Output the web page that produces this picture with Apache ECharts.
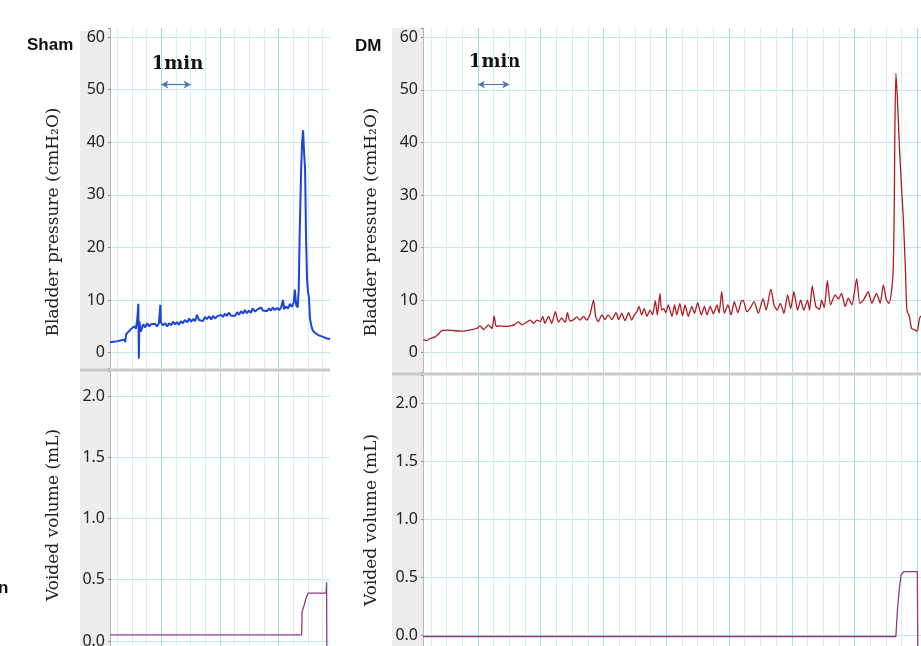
<!DOCTYPE html>
<html>
<head>
<meta charset="utf-8">
<title>Cystometry traces</title>
<script src="https://cdn.jsdelivr.net/npm/echarts@6.0.0/dist/echarts.min.js"></script>
<style>
  html, body { margin: 0; padding: 0; background: #fff; }
  #chart { width: 921px; height: 646px; }
</style>
</head>
<body>
<div id="chart"></div>
<script>
// time in seconds, pressure in cmH2O, voided volume in mL
const shamTime = [15,19,23,27,31,36,40,44,46,48,52,56,60,64,68,71,73,74,75,78,83,87,91,95,99,103,107,111,115,118,
  119,123,128,132,136,140,144,148,152,156,160,164,168,173,177,181,185,189,193,197,201,205,209,213,218,222,226,230,234,238,
  242,246,250,254,258,263,267,271,275,279,283,287,291,295,299,303,307,312,316,320,324,328,332,336,340,344,348,352,357,361,
  365,369,371,375,379,383,387,391,393,396,399,401,403,406,408,410,412,414,416,418,420,422,424,427,430,434,438,442,446,451,
  455,459,463,465]
const shamPressure = [2.0,2.3,2.1,2.4,2.2,2.3,2.2,2.5,2.0,3.5,3.9,4.3,4.6,5.0,4.6,6.5,9.3,-1.1,6.0,4.0,
  5.4,4.8,5.6,5.0,5.4,5.1,5.5,5.0,5.6,9.1,5.8,5.2,5.6,5.0,5.6,5.2,5.9,5.4,5.8,5.3,
  6.0,5.6,6.2,5.8,6.5,5.9,6.4,6.0,7.2,6.2,6.5,6.0,6.8,6.4,6.9,6.3,7.0,6.5,6.9,6.6,
  7.2,6.8,7.4,7.0,7.6,7.0,7.3,7.0,7.7,7.2,7.9,7.4,8.1,7.5,8.0,7.6,8.4,7.8,8.2,7.9,
  8.6,8.0,8.3,7.9,8.4,8.0,8.6,8.1,8.5,8.1,8.6,10.0,8.3,8.8,8.4,9.3,8.7,9.6,12.0,9.0,
  8.6,12.0,22.7,35.0,40.0,42.3,38.0,35.0,22.0,14.0,11.6,10.5,6.5,5.0,4.2,3.8,3.6,3.3,3.4,3.0,
  3.1,2.7,2.9,2.6]

const dmTime = [16,22,29,38,45,51,61,73,86,99,108,118,124,131,140,147,151,155,162,172,
  182,191,197,204,210,220,226,233,239,244,248,255,261,268,274,280,287,291,296,303,
  309,315,322,328,334,341,345,350,357,363,369,376,384,389,395,401,408,414,419,424,
  428,433,438,443,449,454,459,463,468,471,475,479,484,491,496,500,506,511,516,522,
  529,534,540,547,553,558,564,570,577,581,586,591,598,604,610,617,623,627,634,640,
  648,656,665,671,680,686,692,698,705,712,718,724,731,737,743,750,754,759,766,773,
  777,782,788,794,803,809,815,822,828,835,844,850,857,866,873,882,889,895,901,906,
  911,914,916,917,919,922,926,930,933,937,940,945,949,956,960,964,967]
const dmPressure = [2.5,2.3,2.7,3.0,3.6,4.2,4.3,4.2,4.1,4.2,4.4,4.6,5.1,4.4,5.3,4.6,7.0,5.0,5.1,5.0,
  5.1,5.4,5.9,5.3,5.6,6.2,5.6,6.2,5.9,6.9,5.6,6.9,5.6,7.8,5.8,6.6,5.8,7.6,6.0,6.3,
  6.8,6.2,6.9,6.2,7.2,10.0,6.9,5.9,7.2,6.3,7.2,6.3,7.6,6.3,7.5,6.1,7.6,6.2,7.2,7.8,
  8.8,7.2,8.4,6.9,8.1,7.2,9.9,7.2,11.3,8.1,8.4,7.6,9.1,6.9,9.1,7.2,9.4,7.0,9.1,6.9,
  8.8,7.5,9.5,7.2,8.8,7.2,8.8,7.4,9.1,7.5,11.6,7.5,9.1,7.2,9.7,7.6,9.7,10.0,7.8,8.4,
  9.7,7.5,10.3,8.1,12.1,9.1,8.1,9.4,7.5,11.0,8.4,11.6,8.1,10.0,8.1,10.0,8.1,12.7,8.8,8.2,
  10.0,8.6,13.7,9.1,11.0,10.2,11.3,8.8,10.4,9.1,14.1,9.4,10.0,11.6,9.4,11.3,9.4,12.9,10.0,9.4,
  12.0,16.0,29.0,41.7,53.1,48.1,38.6,31.0,25.9,16.4,8.1,6.8,4.6,4.3,4.1,6.5,7.0]

const shamVolTime = [15,407,408,412,416,420,457,458,458.5]
const shamVolume = [0.05,0.05,0.24,0.29,0.35,0.39,0.39,0.48,-0.05]
const dmVolTime = [15,919,922,926,929,934,960,961]
const dmVolume = [-0.01,-0.01,0.22,0.42,0.52,0.55,0.55,-0.2]

const pressureTicks = [0,10,20,30,40,50,60]
const volumeTicks = [0,0.5,1,1.5,2]
const scaleBar = [120,180] // 1 min bar, seconds

const pairs = (xs, ys) => xs.map((x, i) => [x, ys[i]])

const gridLine = '#bfe8ee'
const majorV = '#a6dde6'
const minorV = '#d3f0f4'

function timeAxis(gridIndex, min, max) {
  return {
    type: 'value', gridIndex, min, max, minInterval: 120, maxInterval: 120,
    axisLine: { show: false }, axisTick: { show: false }, axisLabel: { show: false },
    minorTick: { show: false, splitNumber: 4 },
    splitLine: { show: true, showMinLine: false, showMaxLine: false, lineStyle: { color: majorV, width: 1 } },
    minorSplitLine: { show: true, lineStyle: { color: minorV, width: 1 } }
  }
}

function valueAxis(gridIndex, min, max, step, ticks, digits) {
  return {
    type: 'value', gridIndex, min, max, minInterval: step, maxInterval: step,
    axisLine: { show: true, lineStyle: { color: '#b8b8b8', width: 1 } },
    axisTick: { show: true, length: 2, lineStyle: { color: '#888' } },
    axisLabel: {
      margin: 5, color: '#222', fontSize: 16, fontFamily: 'Noto Sans',
      formatter: v => ticks.some(t => Math.abs(t - v) < 1e-6) ? v.toFixed(digits) : ''
    },
    splitLine: { show: true, showMinLine: false, showMaxLine: false, lineStyle: { color: gridLine, width: 1 } }
  }
}

const arrowMark = {
  silent: true,
  symbol: ['arrow', 'arrow'],
  symbolSize: [6, 7],
  label: { show: false },
  lineStyle: { color: '#4a78b8', width: 1.2, type: 'solid' },
  data: [[{ coord: [scaleBar[0], 51] }, { coord: [scaleBar[1], 51] }]]
}

const serif = '"DejaVu Serif", "Liberation Serif", serif'
const axisName = (text, x, y) => ({
  type: 'text', x, y, rotation: Math.PI / 2,
  style: { text, font: '17px ' + serif, fill: '#222', align: 'center', verticalAlign: 'middle' }
})
const label = (text, x, y, font, align) => ({
  type: 'text', x, y,
  style: { text, font, fill: '#111', align: align || 'center', verticalAlign: 'middle' }
})

const chart = echarts.init(document.getElementById('chart'))
chart.setOption({
  animation: false,
  backgroundColor: '#fff',
  grid: [
    { left: 110, top: 28, width: 220, height: 340, containLabel: false, outerBoundsMode: 'none' },
    { left: 110, top: 371.5, width: 220, height: 274.5, containLabel: false, outerBoundsMode: 'none' },
    { left: 423, top: 28, width: 498, height: 344, containLabel: false, outerBoundsMode: 'none' },
    { left: 423, top: 375.5, width: 498, height: 270.5, containLabel: false, outerBoundsMode: 'none' }
  ],
  xAxis: [
    timeAxis(0, 15, 465),
    timeAxis(1, 15, 465),
    timeAxis(2, 15, 967),
    timeAxis(3, 15, 967)
  ],
  yAxis: [
    valueAxis(0, -2.91, 61.73, 10, pressureTicks, 0),
    valueAxis(1, -0.041, 2.2, 0.5, volumeTicks, 1),
    valueAxis(2, -3.67, 61.77, 10, pressureTicks, 0),
    valueAxis(3, -0.092, 2.24, 0.5, volumeTicks, 1)
  ],
  series: [
    {
      name: 'Sham pressure', type: 'line', xAxisIndex: 0, yAxisIndex: 0,
      data: pairs(shamTime, shamPressure), showSymbol: false, symbol: 'none',
      lineStyle: { color: '#1d45d6', width: 2 }, markLine: arrowMark
    },
    {
      name: 'Sham volume', type: 'line', xAxisIndex: 1, yAxisIndex: 1,
      data: pairs(shamVolTime, shamVolume), showSymbol: false, symbol: 'none',
      lineStyle: { color: '#8c3c86', width: 1.3 }
    },
    {
      name: 'DM pressure', type: 'line', xAxisIndex: 2, yAxisIndex: 2,
      data: pairs(dmTime, dmPressure), showSymbol: false, symbol: 'none', smooth: 0.2,
      lineStyle: { color: '#b01a22', width: 1.3 }, markLine: arrowMark
    },
    {
      name: 'DM volume', type: 'line', xAxisIndex: 3, yAxisIndex: 3,
      data: pairs(dmVolTime, dmVolume), showSymbol: false, symbol: 'none',
      lineStyle: { color: '#8c3c86', width: 1.3 }
    }
  ],
  graphic: [
    { type: 'rect', z: -1, shape: { x: 80, y: 31, width: 30, height: 615 }, style: { fill: '#ededed' } },
    { type: 'rect', z: -1, shape: { x: 392, y: 28, width: 31, height: 618 }, style: { fill: '#ededed' } },
    { type: 'rect', z: 10, shape: { x: 80, y: 368.5, width: 250, height: 3 }, style: { fill: '#c9c9c9' } },
    { type: 'rect', z: 10, shape: { x: 392, y: 372.5, width: 529, height: 3 }, style: { fill: '#c9c9c9' } },
    label('Sham', 27, 45, 'bold 17px "Liberation Sans", Arial, sans-serif', 'left'),
    label('DM', 355, 46, 'bold 17px "Liberation Sans", Arial, sans-serif', 'left'),
    label('n', -2, 588, 'bold 17px "Liberation Sans", Arial, sans-serif', 'left'),
    label('1min', 177.5, 64, 'bold 18px ' + serif),
    label('1min', 494.6, 62.5, 'bold 18px ' + serif),
    axisName('Bladder pressure (cmH₂O)', 54, 222),
    axisName('Bladder pressure (cmH₂O)', 372, 222),
    axisName('Voided volume (mL)', 54, 515),
    axisName('Voided volume (mL)', 372, 520)
  ]
})
</script>
</body>
</html>
